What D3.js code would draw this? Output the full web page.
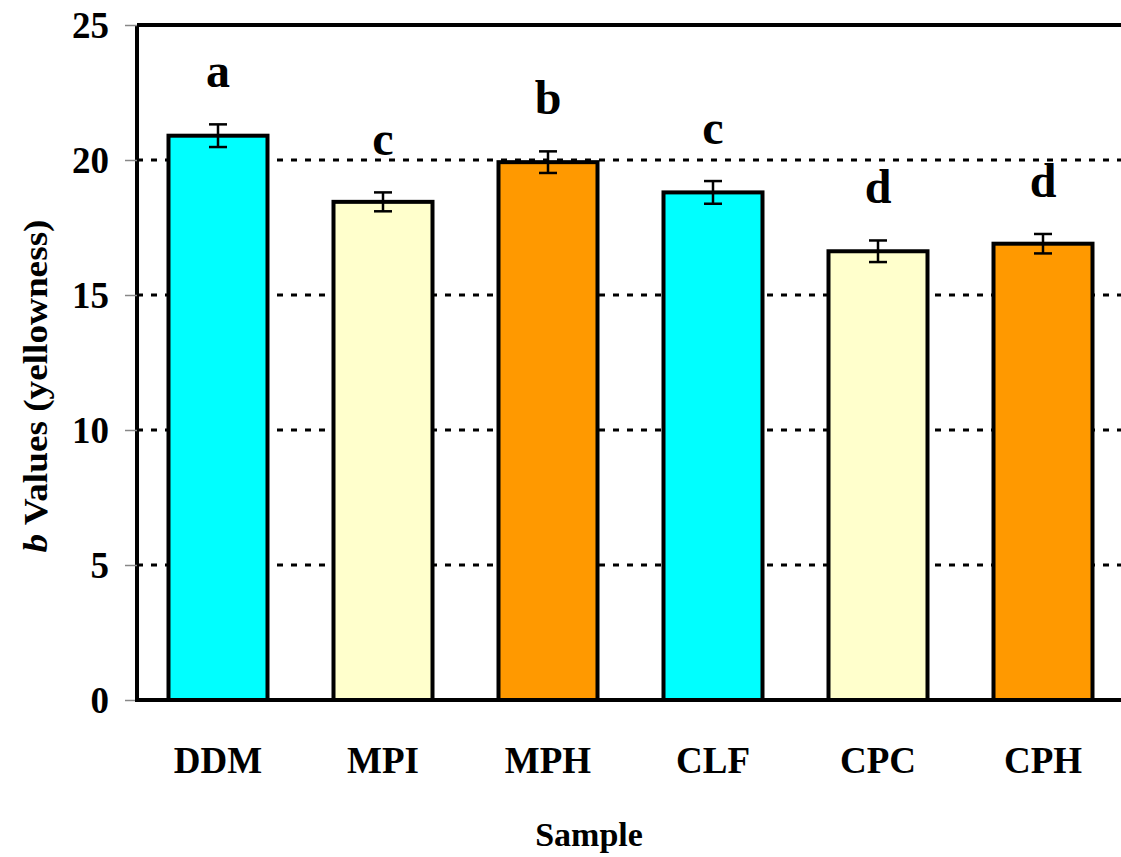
<!DOCTYPE html>
<html>
<head>
<meta charset="utf-8">
<script src="https://cdn.jsdelivr.net/npm/d3@7/dist/d3.min.js"></script>
<style>
  html, body { margin: 0; padding: 0; background: #fff; }
  svg { display: block; }
  text { font-family: "Liberation Serif", "Times New Roman", serif; font-weight: bold; fill: #000; }
</style>
</head>
<body>
<svg id="chart" width="1121" height="857"></svg>
<script>
// Sample categories and measured b* (yellowness) values
const samples = ["DDM", "MPI", "MPH", "CLF", "CPC", "CPH"];
const bValues = [20.9, 18.45, 19.92, 18.8, 16.62, 16.9];
const bErrors = [0.42, 0.35, 0.4, 0.42, 0.4, 0.36];
const groupLetters = ["a", "c", "b", "c", "d", "d"];
const barColors = ["#00FFFF", "#FFFFCC", "#FF9900", "#00FFFF", "#FFFFCC", "#FF9900"];
const yTicks = [0, 5, 10, 15, 20, 25];

const svg = d3.select("#chart");
const plotLeft = 137, plotTop = 25, plotRight = 1127, plotBottom = 700;

const x = d3.scaleBand().domain(samples).range([plotLeft - 1.5, plotRight - 1.5])
  .paddingInner(0.4).paddingOuter(0.2);
const y = d3.scaleLinear().domain([0, 25]).range([plotBottom, plotTop]);

// dotted horizontal gridlines
svg.append("g").selectAll("line")
  .data(yTicks.filter(t => t > 0 && t < 25))
  .join("line")
  .attr("x1", plotLeft).attr("x2", plotRight)
  .attr("y1", d => y(d)).attr("y2", d => y(d))
  .attr("stroke", "#000").attr("stroke-width", 3)
  .attr("stroke-dasharray", "6,8");

// frame top edge
svg.append("line")
  .attr("x1", plotLeft).attr("x2", plotRight)
  .attr("y1", y(25)).attr("y2", y(25))
  .attr("stroke", "#000").attr("stroke-width", 4);

// bars
svg.append("g").selectAll("rect")
  .data(samples)
  .join("rect")
  .attr("x", d => x(d))
  .attr("y", (d, i) => y(bValues[i]))
  .attr("width", x.bandwidth())
  .attr("height", (d, i) => y(0) - y(bValues[i]))
  .attr("fill", (d, i) => barColors[i])
  .attr("stroke", "#000").attr("stroke-width", 4);

// error bars
const eb = svg.append("g").attr("stroke", "#000").attr("stroke-width", 2.5);
samples.forEach((s, i) => {
  const cx = x(s) + x.bandwidth() / 2;
  const hi = y(bValues[i] + bErrors[i]), lo = y(bValues[i] - bErrors[i]);
  eb.append("line").attr("x1", cx).attr("x2", cx).attr("y1", hi).attr("y2", lo);
  eb.append("line").attr("x1", cx - 9).attr("x2", cx + 9).attr("y1", hi).attr("y2", hi);
  eb.append("line").attr("x1", cx - 9).attr("x2", cx + 9).attr("y1", lo).attr("y2", lo);
});

// significance letters
svg.append("g").selectAll("text")
  .data(samples)
  .join("text")
  .attr("x", d => x(d) + x.bandwidth() / 2)
  .attr("y", (d, i) => y(bValues[i] + bErrors[i]) - 37)
  .attr("text-anchor", "middle")
  .style("font-size", "48px")
  .text((d, i) => groupLetters[i]);

// y axis
const yAxis = svg.append("g")
  .attr("transform", `translate(${plotLeft},0)`)
  .call(d3.axisLeft(y).tickValues(yTicks).tickSize(12).tickPadding(16).tickFormat(d3.format("d")));
yAxis.select(".domain").attr("stroke", "#000").attr("stroke-width", 4)
  .attr("d", `M0,${plotTop}V${plotBottom}`);
yAxis.selectAll(".tick line").attr("stroke", "#888").attr("stroke-width", 1.5);
yAxis.selectAll(".tick text")
  .style("font-size", "37px")
  .style("font-family", "'Liberation Serif', serif")
  .style("font-weight", "bold")
  .attr("dy", "0.35em");

// x axis baseline
svg.append("line")
  .attr("x1", plotLeft - 2).attr("x2", plotRight)
  .attr("y1", plotBottom).attr("y2", plotBottom)
  .attr("stroke", "#000").attr("stroke-width", 4);

// category labels
svg.append("g").selectAll("text")
  .data(samples)
  .join("text")
  .attr("x", d => x(d) + x.bandwidth() / 2)
  .attr("y", 773)
  .attr("text-anchor", "middle")
  .style("font-size", "37px")
  .text(d => d);

// axis titles
svg.append("text")
  .attr("x", 589).attr("y", 846)
  .attr("text-anchor", "middle")
  .style("font-size", "34px")
  .text("Sample");

const yt = svg.append("text")
  .attr("transform", "translate(47,386) rotate(-90)")
  .attr("text-anchor", "middle")
  .style("font-size", "34px")
  .attr("textLength", 333)
  .attr("lengthAdjust", "spacingAndGlyphs");
yt.append("tspan").style("font-style", "italic").text("b");
yt.append("tspan").text(" Values (yellowness)");
</script>
</body>
</html>
